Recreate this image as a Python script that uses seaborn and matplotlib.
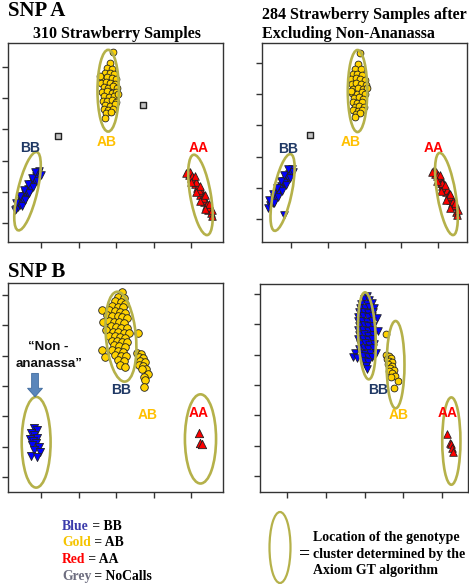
import matplotlib
matplotlib.use("Agg")
import matplotlib.pyplot as plt
from matplotlib.patches import Ellipse
import seaborn as sns

sns.set_style("ticks")

# ---------------- data ----------------
# SNP A, 310 samples
tl_ab_x = [2.92, 2.84, 2.76, 2.90, 2.70, 2.83, 2.95, 2.64, 2.77, 2.89, 3.00, 2.60, 2.72, 2.85, 2.97,
           2.67, 2.79, 2.91, 3.03, 2.63, 2.75, 2.88, 3.00, 2.69, 2.81, 2.94, 2.65, 2.77, 2.89, 3.01,
           2.71, 2.83, 2.96, 2.67, 2.79, 2.91, 2.73, 2.86, 2.71, 2.58, 3.06]
tl_ab_y = [6.48, 6.12, 5.96, 5.93, 5.82, 5.80, 5.78, 5.66, 5.68, 5.64, 5.62, 5.50, 5.52, 5.49, 5.47,
           5.36, 5.34, 5.38, 5.33, 5.20, 5.22, 5.18, 5.21, 5.06, 5.04, 5.08, 4.92, 4.90, 4.94, 4.88,
           4.78, 4.76, 4.80, 4.64, 4.62, 4.66, 4.52, 4.55, 4.38, 5.72, 5.15]
tl_bb_x = [0.31, 0.33, 0.38, 0.40, 0.44, 0.46, 0.48, 0.50, 0.52, 0.54, 0.56, 0.58, 0.60, 0.62, 0.63,
           0.66, 0.67, 0.70, 0.71, 0.74, 0.75, 0.78, 0.80, 0.82, 0.84, 0.87, 0.89, 0.92, 0.95,
           0.56, 0.64, 0.72,
           0.48, 0.58, 0.68, 0.79, 0.89, 0.99,
           0.34, 0.44, 0.55, 0.65, 0.75, 0.85]
tl_bb_y = [1.40, 1.45, 1.50, 1.62, 1.58, 1.72, 1.66, 1.80, 1.74, 1.88, 1.82, 1.96, 1.90, 2.04, 1.97,
           2.10, 2.02, 2.18, 2.10, 2.26, 2.18, 2.33, 2.27, 2.42, 2.36, 2.50, 2.44, 2.60, 2.66,
           1.78, 1.92, 2.08,
           1.55, 1.75, 1.95, 2.15, 2.35, 2.55,
           1.65, 1.85, 2.05, 2.25, 2.45, 2.65]
tl_aa_x = [4.92, 4.95, 4.98, 5.00, 5.03, 5.05, 5.08, 5.10, 5.13, 5.15, 5.18, 5.20, 5.23, 5.25,
           5.28, 5.30, 5.33, 5.35, 5.38, 5.40, 5.43, 5.45, 5.48, 5.52, 5.55, 5.12, 5.22, 5.32,
           5.10, 5.23, 5.36, 5.49, 5.55,
           4.87, 5.00, 5.13, 5.25, 5.36]
tl_aa_y = [2.68, 2.55, 2.62, 2.45, 2.52, 2.35, 2.42, 2.25, 2.32, 2.12, 2.20, 2.02, 2.10, 1.90,
           1.98, 1.78, 1.86, 1.66, 1.74, 1.55, 1.62, 1.42, 1.50, 1.32, 1.22, 2.30, 2.05, 1.80,
           2.50, 2.20, 1.90, 1.60, 1.40,
           2.60, 2.30, 2.00, 1.70, 1.45]
tl_nc_x = [1.45, 3.72]
tl_nc_y = [3.79, 4.78]

# SNP A, 284 samples
tr_ab_x = [2.88, 2.82, 2.74, 2.90, 2.68, 2.80, 2.93, 2.64, 2.76, 2.88, 3.00, 2.66, 2.78, 2.90, 3.04,
           2.70, 2.82, 2.95, 3.07, 2.67, 2.79, 2.92, 3.02, 2.72, 2.84, 2.96, 2.68, 2.80, 2.92,
           2.74, 2.86, 2.98, 2.70, 2.82, 2.94, 2.76, 2.88, 2.75, 2.62]
tr_ab_y = [6.32, 5.98, 5.82, 5.80, 5.66, 5.64, 5.62, 5.50, 5.52, 5.48, 5.46, 5.34, 5.36, 5.32, 5.30,
           5.18, 5.20, 5.16, 5.19, 5.04, 5.02, 5.06, 5.00, 4.88, 4.90, 4.86, 4.74, 4.72, 4.76,
           4.60, 4.62, 4.58, 4.48, 4.46, 4.50, 4.36, 4.38, 4.28, 5.10]
tr_bb_x = [0.38, 0.42, 0.45, 0.49, 0.51, 0.54, 0.56, 0.58, 0.60, 0.62, 0.64, 0.66, 0.68, 0.70, 0.72,
           0.74, 0.76, 0.78, 0.80, 0.82, 0.85, 0.87, 0.89, 0.91, 0.94, 0.96, 0.99, 1.02,
           0.65, 0.80, 0.82,
           0.55, 0.65, 0.75, 0.86, 0.96, 1.06,
           0.41, 0.51, 0.62, 0.72, 0.82, 0.92]
tr_bb_y = [1.36, 1.46, 1.50, 1.58, 1.52, 1.66, 1.62, 1.74, 1.70, 1.82, 1.78, 1.90, 1.85, 1.98, 1.93,
           2.06, 2.00, 2.14, 2.08, 2.20, 2.28, 2.22, 2.36, 2.30, 2.44, 2.40, 2.52, 2.60,
           1.86, 2.16, 1.12,
           1.50, 1.70, 1.90, 2.10, 2.30, 2.50,
           1.60, 1.80, 2.00, 2.20, 2.40, 2.60]
tr_aa_x = [4.89, 4.92, 4.95, 4.97, 5.00, 5.02, 5.05, 5.07, 5.10, 5.12, 5.15, 5.17, 5.20, 5.22,
           5.25, 5.27, 5.30, 5.32, 5.35, 5.37, 5.40, 5.43, 5.46, 5.50, 5.52, 5.10, 5.30,
           5.06, 5.20, 5.33, 5.46, 5.55,
           4.85, 4.96, 5.09, 5.22, 5.33]
tr_aa_y = [2.57, 2.44, 2.52, 2.36, 2.42, 2.26, 2.33, 2.16, 2.22, 2.06, 2.12, 1.95, 2.02, 1.85,
           1.92, 1.74, 1.80, 1.62, 1.70, 1.52, 1.58, 1.40, 1.46, 1.22, 1.14, 2.15, 1.72,
           2.40, 2.10, 1.80, 1.50, 1.28,
           2.50, 2.20, 1.90, 1.60, 1.35]
tr_nc_x = [1.52]
tr_nc_y = [3.69]

# SNP B, 310 samples
bl_ab_x = [3.15, 3.05, 3.20, 2.98, 3.12, 3.25, 2.90, 3.05, 3.18, 2.63, 2.82, 2.97, 3.10, 3.24,
           2.75, 2.90, 3.04, 3.17, 3.30, 2.65, 2.80, 2.94, 3.08, 3.22, 2.86, 3.00, 3.14, 3.28,
           2.72, 2.92, 3.06, 3.20, 3.34, 2.80, 2.96, 3.10, 3.24, 2.88, 3.02, 3.16, 3.30, 2.63,
           2.95, 3.09, 3.23, 2.90, 3.04, 3.18, 2.71, 2.98, 3.12, 3.26, 3.06, 3.20, 3.10, 3.24,
           3.59, 3.56, 3.66, 3.60, 3.72, 3.65, 3.76, 3.62, 3.72, 3.80, 3.68, 3.85, 3.75, 3.77, 3.75]
bl_ab_y = [7.10, 6.95, 6.90, 6.80, 6.78, 6.72, 6.65, 6.62, 6.60, 6.51, 6.50, 6.48, 6.45, 6.42,
           6.35, 6.32, 6.30, 6.28, 6.25, 6.10, 6.15, 6.12, 6.10, 6.08, 5.98, 5.95, 5.93, 5.92,
           5.85, 5.80, 5.78, 5.76, 5.75, 5.66, 5.64, 5.62, 5.60, 5.50, 5.48, 5.46, 5.44, 5.19,
           5.34, 5.32, 5.30, 5.18, 5.16, 5.14, 4.96, 5.02, 5.00, 4.98, 4.86, 4.84, 4.70, 4.62,
           5.75, 5.10, 5.05, 4.95, 4.92, 4.82, 4.78, 4.70, 4.65, 4.55, 4.55, 4.40, 4.30, 4.20, 3.97]
bl_bb_x = [0.80, 0.88, 0.72, 0.82, 0.90, 0.70, 0.78, 0.86, 0.75, 0.95, 0.82, 0.98, 0.72, 0.90]
bl_bb_y = [2.62, 2.55, 2.45, 2.40, 2.30, 2.25, 2.18, 2.12, 2.05, 1.98, 1.90, 1.82, 1.70, 1.65]
bl_aa_x = [5.21, 5.24, 5.29]
bl_aa_y = [2.45, 2.12, 2.09]

# SNP B, 284 samples
br_bb_x = [3.06, 2.98, 3.12, 2.92, 3.05, 3.18, 2.88, 3.00, 3.12, 3.24, 2.86, 2.98, 3.10, 3.22,
           2.84, 2.96, 3.08, 3.20, 3.32, 2.82, 2.94, 3.06, 3.18, 2.86, 2.98, 3.10, 3.22,
           2.84, 2.96, 3.08, 3.20, 3.34, 2.86, 2.98, 3.10, 3.22, 2.84, 2.96, 3.08, 3.20,
           2.88, 3.00, 3.12, 3.24, 2.86, 2.98, 3.10, 3.22, 2.74, 2.90, 3.02, 3.14, 3.30,
           2.70, 2.80, 2.96, 3.08, 3.20, 2.98, 3.10, 3.04, 3.06]
br_bb_y = [6.95, 6.82, 6.80, 6.68, 6.66, 6.70, 6.55, 6.53, 6.57, 6.54, 6.40, 6.42, 6.38, 6.41,
           6.25, 6.27, 6.23, 6.26, 6.22, 6.10, 6.12, 6.08, 6.11, 5.95, 5.97, 5.93, 5.96,
           5.80, 5.82, 5.78, 5.81, 5.79, 5.65, 5.67, 5.63, 5.66, 5.50, 5.52, 5.48, 5.51,
           5.35, 5.37, 5.33, 5.36, 5.20, 5.22, 5.18, 5.21, 5.05, 5.07, 5.03, 5.06, 5.04,
           4.92, 4.90, 4.94, 4.91, 4.93, 4.78, 4.76, 4.62, 4.52]
br_ab_x = [3.55, 3.55, 3.62, 3.58, 3.68, 3.64, 3.72, 3.60, 3.70, 3.66, 3.75, 3.62, 3.70, 3.78,
           3.68, 3.86, 3.76]
br_ab_y = [5.68, 5.00, 4.95, 4.85, 4.90, 4.78, 4.75, 4.68, 4.62, 4.55, 4.50, 4.45, 4.38, 4.30,
           4.25, 4.12, 3.90]
br_aa_x = [5.13, 5.21, 5.23, 5.26, 5.28]
br_aa_y = [2.38, 2.09, 2.06, 1.92, 1.79]

# cluster ellipses: (cx, cy, width, height, angle)
tl_ell = [(2.79, 5.24, 0.57, 2.62, 0), (0.64, 2.02, 0.52, 2.56, -11), (5.25, 1.90, 0.55, 2.60, 8)]
tr_ell = [(2.81, 5.10, 0.53, 2.63, 0), (0.77, 1.85, 0.50, 2.50, -10), (5.23, 1.80, 0.50, 2.66, 8)]
bl_ell = [(3.13, 5.63, 0.80, 2.97, 4), (0.87, 2.15, 0.77, 2.99, 0), (5.25, 2.26, 0.83, 2.94, 0)]
br_ell = [(3.06, 5.62, 0.45, 2.87, 2), (3.80, 4.67, 0.46, 2.88, 0), (5.24, 2.15, 0.47, 2.88, 0)]

# genotype labels: (text, x, y)
tl_lab = [("BB", 0.71, 3.40), ("AB", 2.76, 3.60), ("AA", 5.19, 3.40)]
tr_lab = [("BB", 0.92, 3.24), ("AB", 2.63, 3.47), ("AA", 4.89, 3.28)]
bl_lab = [("BB", 3.13, 3.87), ("AB", 3.85, 3.04), ("AA", 5.19, 3.11)]
br_lab = [("BB", 3.35, 3.84), ("AB", 3.89, 3.01), ("AA", 5.15, 3.08)]

x_ticks = [1, 2, 3, 4, 5]
y_ticks_a = [1, 2, 3, 4, 5, 6]
y_ticks_b = [1, 2, 3, 4, 5, 6, 7]

# ---------------- styling ----------------
GOLD = "#ffd200"
BLUE = "#0000ff"
RED = "#ff0000"
GREY = "#c4c4c4"
ELL = "#b5b14a"
LAB_COL = {"BB": "#1f3864", "AB": "#ffc000", "AA": "#ff0000"}
SERIF = "Liberation Serif"
SANS = "Liberation Sans"

W, H = 469, 584
fig = plt.figure(figsize=(W / 100, H / 100), dpi=100)


def px_axes(l, t, r, b):
    return fig.add_axes([l / W, 1 - b / H, (r - l) / W, (b - t) / H])


ax_tl = px_axes(8, 43, 223, 242)
ax_tr = px_axes(262, 43, 467, 242)
ax_bl = px_axes(8, 283, 223, 492)
ax_br = px_axes(260, 284, 468, 492)


def scat(ax, xs, ys, marker, fc, s, lw=0.6, ec="#222222"):
    sns.scatterplot(x=xs, y=ys, ax=ax, marker=marker, color=fc, s=s,
                    edgecolor=ec, linewidth=lw, legend=False, zorder=3)


def finish(ax, xlim, ylim, yticks, ells, labs):
    for (cx, cy, w, h, a) in ells:
        ax.add_patch(Ellipse((cx, cy), w, h, angle=a, fill=False,
                             edgecolor=ELL, linewidth=1.9, zorder=4))
    for (t, x, y) in labs:
        ax.text(x, y, t, color=LAB_COL[t], ha="center", va="center",
                fontsize=10, fontweight="bold", family=SANS, zorder=5)
    ax.set_xlim(*xlim)
    ax.set_ylim(*ylim)
    ax.set_xticks(x_ticks)
    ax.set_yticks(yticks)
    ax.set_xticklabels([])
    ax.set_yticklabels([])
    ax.set_xlabel("")
    ax.set_ylabel("")
    ax.tick_params(direction="out", length=4.5, width=1, color="#333333")
    for sp in ax.spines.values():
        sp.set_visible(True)
        sp.set_color("#333333")
        sp.set_linewidth(1.0)


# top-left
scat(ax_tl, tl_ab_x, tl_ab_y, "o", GOLD, 24)
scat(ax_tl, tl_bb_x, tl_bb_y, "v", BLUE, 30)
scat(ax_tl, tl_aa_x, tl_aa_y, "^", RED, 30)
scat(ax_tl, tl_nc_x, tl_nc_y, "s", GREY, 18, lw=1.0)
finish(ax_tl, (0.12, 5.85), (0.39, 6.77), y_ticks_a, tl_ell, tl_lab)

# top-right
scat(ax_tr, tr_ab_x, tr_ab_y, "o", GOLD, 24)
scat(ax_tr, tr_bb_x, tr_bb_y, "v", BLUE, 30)
scat(ax_tr, tr_aa_x, tr_aa_y, "^", RED, 30)
scat(ax_tr, tr_nc_x, tr_nc_y, "s", GREY, 18, lw=1.0)
finish(ax_tr, (0.21, 5.79), (0.26, 6.64), y_ticks_a, tr_ell, tr_lab)

# bottom-left
scat(ax_bl, bl_ab_x, bl_ab_y, "o", GOLD, 30)
scat(ax_bl, bl_bb_x, bl_bb_y, "v", BLUE, 34)
scat(ax_bl, bl_aa_x, bl_aa_y, "^", RED, 36)
finish(ax_bl, (0.12, 5.85), (0.51, 7.40), y_ticks_b, bl_ell, bl_lab)
ax_bl.text(1.19, 5.19, "\u201cNon -", ha="center", va="baseline", fontsize=9.5,
           fontweight="bold", family=SANS, color="#111111")
ax_bl.text(1.21, 4.64, "ananassa\u201d", ha="center", va="baseline", fontsize=9.5,
           fontweight="bold", family=SANS, color="#111111")
ax_bl.arrow(0.84, 4.42, 0, -0.77, width=0.18, head_width=0.40, head_length=0.28,
            length_includes_head=True, facecolor="#5a86bb", edgecolor="#3f6a9e",
            linewidth=0.6, zorder=5)

# bottom-right
scat(ax_br, br_bb_x, br_bb_y, "v", BLUE, 30)
scat(ax_br, br_ab_x, br_ab_y, "o", GOLD, 24)
scat(ax_br, br_aa_x, br_aa_y, "^", RED, 30)
finish(ax_br, (0.30, 5.67), (0.47, 7.33), y_ticks_b, br_ell, br_lab)

# ---------------- overlay in pixel coordinates ----------------
ov = fig.add_axes([0, 0, 1, 1], zorder=10)
ov.set_xlim(0, W)
ov.set_ylim(H, 0)
ov.axis("off")
ov.patch.set_alpha(0)

tkw = dict(family=SERIF, fontweight="bold", color="black", va="baseline")
ov.text(8, 15.5, "SNP A", fontsize=15, ha="left", **tkw)
ov.text(117, 38, "310 Strawberry Samples", fontsize=11.5, ha="center", **tkw)
ov.text(262, 19, "284 Strawberry Samples after", fontsize=11.5, ha="left", **tkw)
ov.text(262, 38, "Excluding Non-Ananassa", fontsize=11.5, ha="left", **tkw)
ov.text(8, 277, "SNP B", fontsize=15, ha="left", **tkw)

legend_rows = [("Blue", "#3b3bab", " = BB", 530),
               ("Gold", "#f5c400", " = AB", 546.5),
               ("Red", "#ff0000", " = AA", 563),
               ("Grey", "#6e6e80", " = NoCalls", 580)]
for word, col, rest, yb in legend_rows:
    t = ov.text(62, yb, word, fontsize=9.8, ha="left", family=SERIF,
                fontweight="bold", color=col, va="baseline")
    ov.annotate(rest, xy=(1, 0), xycoords=t, va="bottom", ha="left",
                fontsize=9.8, family=SERIF, fontweight="bold", color="black")

ov.add_patch(Ellipse((280, 547.5), 21, 71, fill=False, edgecolor=ELL, linewidth=1.6))
ov.text(305, 553.5, "=", fontsize=14, ha="center", va="center",
        family=SERIF, fontweight="bold", color="black")
ov.text(313, 541.5, "Location of the genotype", fontsize=10, ha="left", **tkw)
ov.text(313, 558, "cluster determined by the", fontsize=10, ha="left", **tkw)
ov.text(313, 574, "Axiom GT algorithm", fontsize=10, ha="left", **tkw)

fig.savefig("out.png", dpi=100)
